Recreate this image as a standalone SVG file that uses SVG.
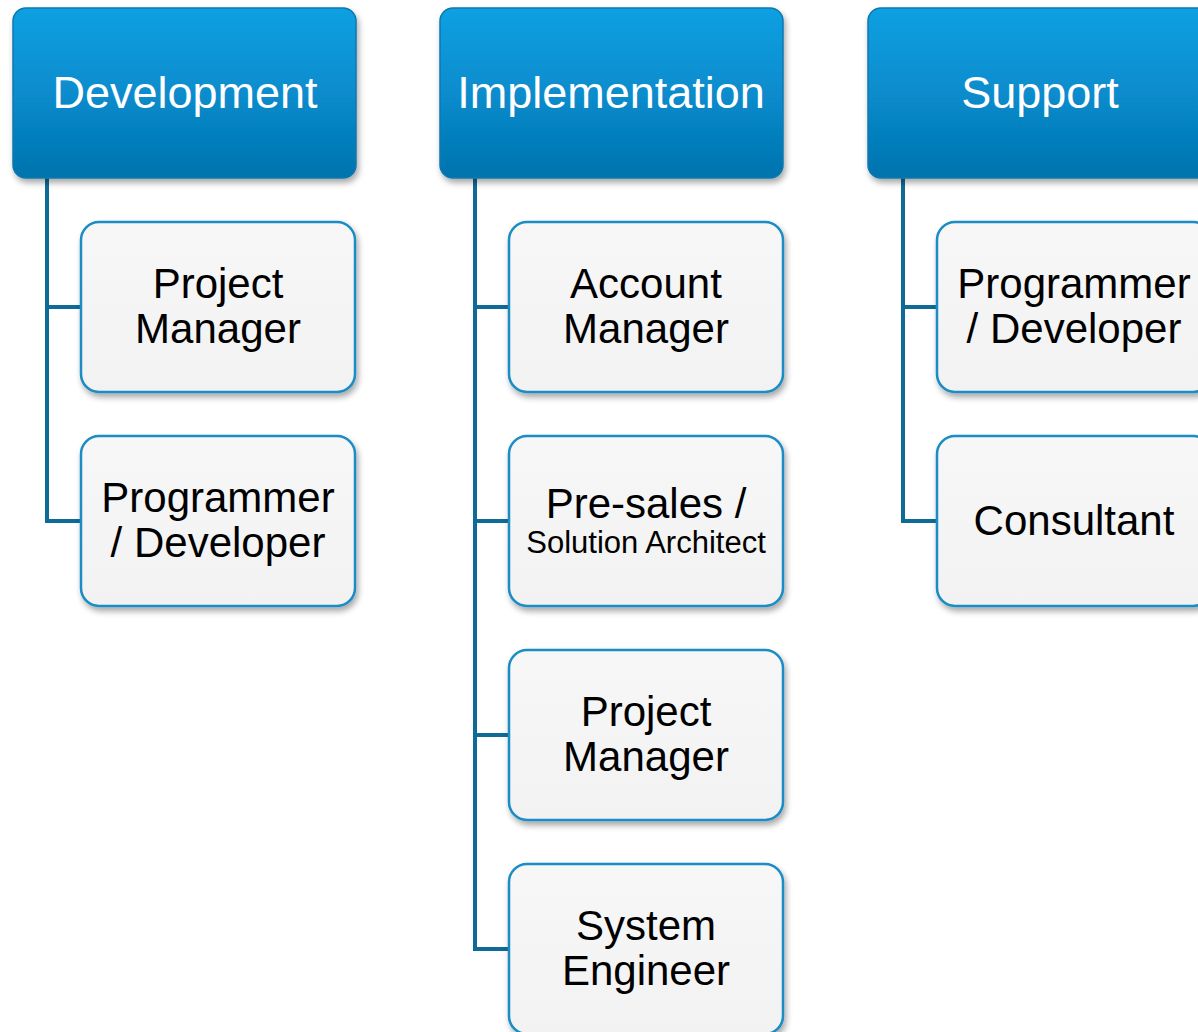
<svg xmlns="http://www.w3.org/2000/svg" width="1198" height="1032" viewBox="0 0 1198 1032">
<defs>
<linearGradient id="hg" x1="0" y1="0" x2="0" y2="1">
<stop offset="0" stop-color="#0aa0e2"/>
<stop offset="0.5" stop-color="#078ccd"/>
<stop offset="1" stop-color="#0573ad"/>
</linearGradient>
<linearGradient id="cg" x1="0" y1="0" x2="0" y2="1">
<stop offset="0" stop-color="#f7f7f7"/>
<stop offset="1" stop-color="#f2f2f2"/>
</linearGradient>
<filter id="sh" x="-10%" y="-10%" width="125%" height="130%">
<feGaussianBlur in="SourceAlpha" stdDeviation="3"/>
<feOffset dx="2" dy="4" result="b"/>
<feComponentTransfer><feFuncA type="linear" slope="0.35"/></feComponentTransfer>
<feMerge><feMergeNode/><feMergeNode in="SourceGraphic"/></feMerge>
</filter>
</defs>
<style>
.h{fill:url(#hg);stroke:#0a78b0;stroke-width:1.5;filter:url(#sh)}
.c{fill:url(#cg);stroke:#1a8cc4;stroke-width:2.5;filter:url(#sh)}
.ht{font-family:"Liberation Sans",Arial,sans-serif;font-size:45px;fill:#ffffff;text-anchor:middle}
.ct{font-family:"Liberation Sans",Arial,sans-serif;font-size:42px;fill:#000000;text-anchor:middle}
.cs{font-family:"Liberation Sans",Arial,sans-serif;font-size:31px;fill:#000000;text-anchor:middle}
.ln{fill:none;stroke:#0e6a96;stroke-width:4;stroke-linejoin:miter}
</style>
<g id="connectors">
<path class="ln" d="M47,178 V521 H81 M47,307 H81"/>
<path class="ln" d="M475,178 V949 H509 M475,307 H509 M475,521 H509 M475,735 H509"/>
<path class="ln" d="M903,178 V521 H937 M903,307 H937"/>
</g>
<g id="dev">
<rect class="h" x="13" y="8" width="343" height="170" rx="13"/>
<text class="ht" x="185" y="108">Development</text>
</g>
<g id="impl">
<rect class="h" x="440" y="8" width="343" height="170" rx="13"/>
<text class="ht" x="611" y="108">Implementation</text>
</g>
<g id="sup">
<rect class="h" x="868" y="8" width="343" height="170" rx="13"/>
<text class="ht" x="1040" y="108">Support</text>
</g>
<g id="dev-pm">
<rect class="c" x="81" y="222" width="274" height="170" rx="18"/>
<text class="ct" x="218" y="298">Project</text>
<text class="ct" x="218" y="343">Manager</text>
</g>
<g id="dev-pd">
<rect class="c" x="81" y="436" width="274" height="170" rx="18"/>
<text class="ct" x="218" y="512">Programmer</text>
<text class="ct" x="218" y="557">/ Developer</text>
</g>
<g id="impl-am">
<rect class="c" x="509" y="222" width="274" height="170" rx="18"/>
<text class="ct" x="646" y="298">Account</text>
<text class="ct" x="646" y="343">Manager</text>
</g>
<g id="impl-ps">
<rect class="c" x="509" y="436" width="274" height="170" rx="18"/>
<text class="ct" x="646" y="518">Pre-sales /</text>
<text class="cs" x="646" y="553">Solution Architect</text>
</g>
<g id="impl-pm">
<rect class="c" x="509" y="650" width="274" height="170" rx="18"/>
<text class="ct" x="646" y="726">Project</text>
<text class="ct" x="646" y="771">Manager</text>
</g>
<g id="impl-se">
<rect class="c" x="509" y="864" width="274" height="170" rx="18"/>
<text class="ct" x="646" y="940">System</text>
<text class="ct" x="646" y="985">Engineer</text>
</g>
<g id="sup-pd">
<rect class="c" x="937" y="222" width="274" height="170" rx="18"/>
<text class="ct" x="1074" y="298">Programmer</text>
<text class="ct" x="1074" y="343">/ Developer</text>
</g>
<g id="sup-co">
<rect class="c" x="937" y="436" width="274" height="170" rx="18"/>
<text class="ct" x="1074" y="535">Consultant</text>
</g>
</svg>
